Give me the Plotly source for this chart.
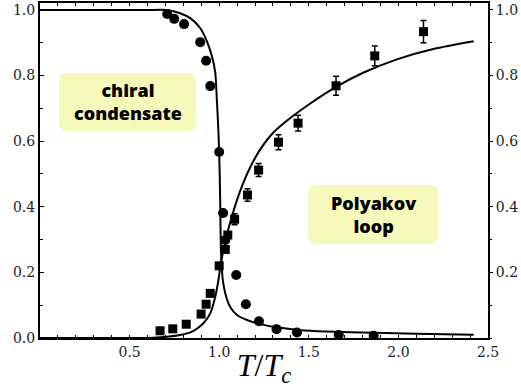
import plotly.graph_objects as go

# Lattice data: chiral condensate (circles)
chiral_T = [0.710, 0.749, 0.804, 0.894, 0.927, 0.950, 1.000, 1.022, 1.034,
            1.095, 1.149, 1.222, 1.320, 1.434, 1.667, 1.862]
chiral_val = [0.988, 0.973, 0.957, 0.902, 0.845, 0.768, 0.567, 0.381, 0.299,
              0.192, 0.103, 0.051, 0.027, 0.017, 0.009, 0.007]

# Lattice data: Polyakov loop (squares) with errors
poly_T = [0.670, 0.741, 0.816, 0.899, 0.927, 0.950, 1.000, 1.034, 1.048,
          1.086, 1.158, 1.220, 1.331, 1.440, 1.652, 1.868, 2.140]
poly_val = [0.022, 0.028, 0.042, 0.073, 0.103, 0.136, 0.220, 0.270, 0.314,
            0.362, 0.436, 0.512, 0.597, 0.655, 0.769, 0.860, 0.934]
poly_err = [0.0, 0.0, 0.0, 0.0, 0.0, 0.0, 0.0, 0.0, 0.0,
            0.017, 0.019, 0.020, 0.023, 0.024, 0.029, 0.030, 0.034]

# Model curves
chiral_curve_T = [0.0, 0.3, 0.6, 0.708, 0.782, 0.838, 0.894, 0.931, 0.959, 0.978,
                  0.987, 0.996, 1.002, 1.006, 1.009, 1.013, 1.020, 1.034, 1.061,
                  1.099, 1.155, 1.248, 1.341, 1.453, 1.600, 1.862, 2.100, 2.420]
chiral_curve = [1.0, 1.0, 1.0, 1.0, 0.990, 0.975, 0.945, 0.905, 0.860, 0.810,
                0.726, 0.625, 0.520, 0.400, 0.278, 0.228, 0.177, 0.136, 0.095,
                0.070, 0.055, 0.040, 0.031, 0.024, 0.020, 0.016, 0.013, 0.010]

poly_curve_T = [0.0, 0.4, 0.6, 0.67, 0.782, 0.857, 0.912, 0.950, 0.978, 0.996,
                1.009, 1.024, 1.050, 1.090, 1.130, 1.180, 1.229, 1.300, 1.400,
                1.500, 1.650, 1.800, 2.000, 2.200, 2.420]
poly_curve = [0.0, 0.0, 0.0, 0.002, 0.009, 0.022, 0.045, 0.075, 0.126, 0.177,
              0.228, 0.268, 0.330, 0.405, 0.467, 0.528, 0.575, 0.625, 0.672,
              0.712, 0.765, 0.808, 0.851, 0.882, 0.905]

# Axis ticks
x_ticks = [0.5, 1.0, 1.5, 2.0, 2.5]
x_labels = ["0.5", "1.0", "1.5", "2.0", "2.5"]
y_left_ticks = [0.0, 0.2, 0.4, 0.6, 0.8, 1.0]
y_left_labels = ["0.0", "0.2", "0.4", "0.6", "0.8", "1.0"]
y_right_ticks = [0.2, 0.4, 0.6, 0.8, 1.0]
y_right_labels = ["0.2", "0.4", "0.6", "0.8", "1.0"]

# Label boxes (x0, x1, y0, y1) and their text
chiral_box = (0.106, 0.872, 0.631, 0.808)
poly_box = (1.497, 2.223, 0.287, 0.466)
chiral_text = "chiral<br>condensate"
poly_text = "Polyakov<br>loop"

X_RANGE = [0, 2.5]
Y_RANGE = [0, 1.0213]

TICK_SERIF = "DejaVu Serif"
TITLE_SERIF = "Liberation Serif"


def rounded_rect(x0, x1, y0, y1, rx=0.045, ry=0.024):
    return (f"M {x0+rx},{y0} L {x1-rx},{y0} Q {x1},{y0} {x1},{y0+ry} "
            f"L {x1},{y1-ry} Q {x1},{y1} {x1-rx},{y1} "
            f"L {x0+rx},{y1} Q {x0},{y1} {x0},{y1-ry} "
            f"L {x0},{y0+ry} Q {x0},{y0} {x0+rx},{y0} Z")


fig = go.Figure()

fig.add_trace(go.Scatter(x=chiral_curve_T, y=chiral_curve, mode="lines",
                         line=dict(color="black", width=2, shape="spline", smoothing=0.6),
                         hoverinfo="skip", showlegend=False))
fig.add_trace(go.Scatter(x=poly_curve_T, y=poly_curve, mode="lines",
                         line=dict(color="black", width=2, shape="spline", smoothing=0.6),
                         hoverinfo="skip", showlegend=False))
fig.add_trace(go.Scatter(x=chiral_T, y=chiral_val, mode="markers",
                         marker=dict(symbol="circle", size=10, color="black"),
                         showlegend=False))
fig.add_trace(go.Scatter(x=poly_T, y=poly_val, mode="markers",
                         marker=dict(symbol="square", size=9, color="black"),
                         error_y=dict(type="data", array=poly_err, visible=True,
                                      color="black", thickness=1.5, width=3),
                         showlegend=False))
# invisible trace to carry the right-hand axis
fig.add_trace(go.Scatter(x=[0], y=[0], yaxis="y2", mode="markers",
                         marker=dict(opacity=0), hoverinfo="skip", showlegend=False))

for box in (chiral_box, poly_box):
    fig.add_shape(type="path", path=rounded_rect(*box), xref="x", yref="y",
                  fillcolor="#f5f9b9", line=dict(width=0), layer="below")

for box, text in ((chiral_box, chiral_text), (poly_box, poly_text)):
    fig.add_annotation(x=(box[0] + box[1]) / 2, y=(box[2] + box[3]) / 2, text=text,
                       showarrow=False, xref="x", yref="y",
                       font=dict(family="Open Sans", size=18, color="black", weight=800))

tick_font = dict(family=TICK_SERIF, size=14, color="#222222")

fig.update_layout(
    template="none",
    font=dict(family=TICK_SERIF, size=14, color="black"),
    width=521, height=388,
    margin=dict(l=40, r=33, t=3, b=50),
    paper_bgcolor="white", plot_bgcolor="white",
    xaxis=dict(range=X_RANGE, showgrid=False, zeroline=False,
               showline=True, linecolor="black", linewidth=2, mirror="ticks",
               ticks="inside", ticklen=3, tickwidth=1, tickcolor="black",
               tickvals=x_ticks, ticktext=x_labels, tickfont=tick_font,
               minor=dict(dtick=0.1, tick0=0, ticklen=3, ticks="inside", tickcolor="black"),
               title=dict(text="<i>T</i>/<i>T</i><sub><i>c</i></sub>",
                          font=dict(family=TITLE_SERIF, size=32, color="black"),
                          standoff=0)),
    yaxis=dict(range=Y_RANGE, showgrid=False, zeroline=False,
               showline=True, linecolor="black", linewidth=2, mirror=True,
               ticks="inside", ticklen=4, tickwidth=1, tickcolor="black",
               tickvals=y_left_ticks, ticktext=y_left_labels, tickfont=tick_font,
               minor=dict(dtick=0.1, tick0=0, ticklen=3, ticks="inside", tickcolor="black")),
    yaxis2=dict(range=Y_RANGE, overlaying="y", side="right", showgrid=False,
                zeroline=False, showline=False,
                ticks="outside", ticklen=4, tickwidth=1, tickcolor="black",
                tickvals=y_right_ticks, ticktext=y_right_labels, tickfont=tick_font,
                minor=dict(dtick=0.1, tick0=0, ticklen=3, ticks="outside", tickcolor="black")),
)

fig.write_html("out.html")
